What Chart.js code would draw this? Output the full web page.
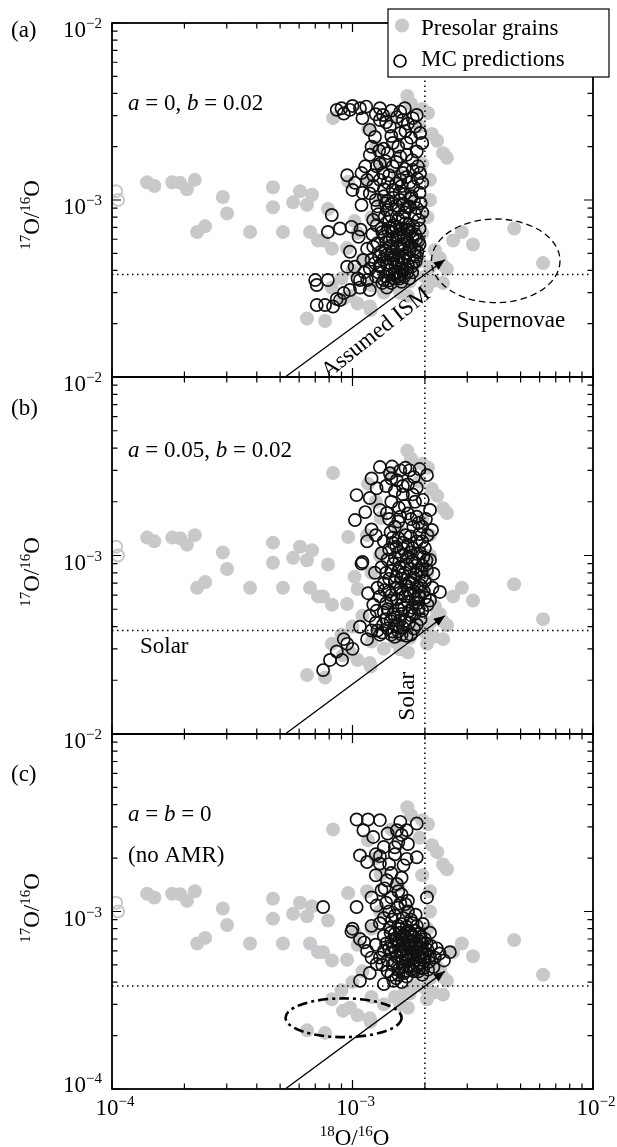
<!DOCTYPE html>
<html>
<head>
<meta charset="utf-8">
<script src="https://cdn.jsdelivr.net/npm/chart.js@4.4.1/dist/chart.umd.min.js"></script>
<style>
  html, body { margin: 0; padding: 0; background: #fff; }
  #wrap { position: relative; width: 617px; height: 1147px; }
  #wrap canvas { position: absolute; left: 0; top: 0; }
</style>
</head>
<body>
<div id="wrap">
  <canvas id="panelA" width="617" height="1147"></canvas>
  <canvas id="panelB" width="617" height="1147"></canvas>
  <canvas id="panelC" width="617" height="1147"></canvas>
</div>
<script>
// ---- data (18O/16O, 17O/16O) ----
const axisMin = 1e-4;
const axisMax = 1e-2;
const majorTicks = [1e-4, 1e-3, 1e-2];
const majorExp = ['\u22124', '\u22123', '\u22122'];
const minorSteps = [2, 3, 4, 5, 6, 7, 8, 9];

const solar18 = 2.0e-3;
const solar17 = 3.8e-4;

// presolar grains (same in all panels)
const grains = [
  [1.40e-4,1.26e-3],[1.50e-4,1.20e-3],[1.78e-4,1.26e-3],[1.92e-4,1.25e-3],[2.05e-4,1.15e-3],[2.21e-4,1.30e-3],
  [2.26e-4,6.6e-4],[2.44e-4,7.1e-4],[2.89e-4,1.04e-3],[3.01e-4,8.4e-4],[3.75e-4,6.6e-4],
  [4.67e-4,1.18e-3],[4.67e-4,9.1e-4],[5.14e-4,6.6e-4],[5.66e-4,9.7e-4],[6.47e-4,9.4e-4],[6.79e-4,1.07e-3],
  [6.05e-4,1.12e-3],[6.66e-4,6.6e-4],[7.19e-4,5.9e-4],[7.54e-4,5.9e-4],[8.22e-4,5.3e-4],[9.49e-4,5.35e-4],
  [7.91e-4,8.9e-4],[9.6e-4,1.27e-3],[1.02e-3,7.6e-4],[8.3e-4,2.9e-3],[1.16e-3,2.52e-3],[1.31e-3,1.62e-3],
  [1.69e-3,3.87e-3],[1.95e-3,3.27e-3],[2.06e-3,3.10e-3],[2.14e-3,2.36e-3],[2.25e-3,2.16e-3],[2.38e-3,1.84e-3],[2.47e-3,1.73e-3],
  [1.70e-3,2.87e-4],[1.19e-3,2.39e-4],[6.47e-4,2.14e-4],[7.69e-4,2.07e-4],[9.13e-4,2.76e-4],[9.76e-4,2.87e-4],
  [2.37e-3,4.3e-4],[2.38e-3,3.4e-4],[2.47e-3,4.07e-4],[2.62e-3,5.9e-4],[2.85e-3,6.6e-4],[3.17e-3,5.6e-4],
  [4.7e-3,6.9e-4],[6.2e-3,4.4e-4],[2.31e-3,4.7e-4],
  [2.25e-3,4.6e-4],[2.1e-3,4.2e-4],[2.0e-3,3.7e-4],[2.2e-3,5.2e-4],[2.17e-3,3.5e-4],[2.04e-3,3.2e-4],
  [1.73e-3,3.45e-4],[1.58e-3,2.98e-4],[1.18e-3,2.5e-4],
  [1.05e-3,6.5e-4],[1.1e-3,4.6e-4],[1.2e-3,3.3e-4],[1.35e-3,3.0e-4],[1.5e-3,3.3e-4],[1.65e-3,3.5e-4],
  [1.8e-3,3.8e-4],[1.9e-3,4.5e-4],[1.85e-3,5.5e-4],[1.95e-3,6.5e-4],[2.05e-3,8.0e-4],[2.1e-3,1.0e-3],
  [2.1e-3,1.3e-3],[1.95e-3,1.6e-3],[1.9e-3,2.6e-3],[1.75e-3,3.5e-3],[1.45e-3,2.9e-3],[1.25e-3,2.0e-3],
  [1.15e-3,1.3e-3],[1.3e-3,1.0e-3],[1.2e-3,8.0e-4],[1.4e-3,5.5e-4],[1.6e-3,7.0e-4],[1.7e-3,1.0e-3],
  [1.55e-3,1.4e-3],[1.0e-3,4.0e-4],[9.0e-4,3.6e-4],[8.2e-4,3.2e-4],[1.05e-3,2.6e-4]
];
// grains clipped at the left border, drawn as rings
const edgeGrains = [[1.04e-4,1.12e-3],[1.06e-4,1.0e-3]];

// MC predictions, panel (a): a = 0, b = 0.02
const mcA = [
  [8.6e-4,3.23e-3],[9.2e-4,3.08e-3],[9.76e-4,3.23e-3],[1.074e-3,3.3e-3],[1.14e-3,3.37e-3],[1.30e-3,3.3e-3],
  [1.34e-3,3.02e-3],[1.53e-3,2.94e-3],[1.85e-3,3.02e-3],[1.91e-3,2.39e-3],[1.30e-3,2.83e-3],[1.18e-3,2.49e-3],
  [1.24e-3,2.27e-3],[1.43e-3,2.6e-3],[1.62e-3,2.83e-3],[1.58e-3,2.39e-3],[1.47e-3,2.1e-3],[1.68e-3,2.1e-3],
  [1.85e-3,1.88e-3],[1.77e-3,1.68e-3],[1.87e-3,1.55e-3],[1.18e-3,1.80e-3],[1.26e-3,1.55e-3],[1.34e-3,1.42e-3],
  [1.47e-3,1.55e-3],[1.58e-3,1.76e-3],[1.40e-3,1.84e-3],[9.5e-4,1.38e-3],[1.024e-3,1.25e-3],[1.09e-3,1.42e-3],
  [1.15e-3,1.30e-3],[1.0e-3,1.14e-3],[1.58e-3,1.30e-3],[1.68e-3,1.35e-3],[1.91e-3,1.42e-3],[1.79e-3,1.19e-3],
  [1.47e-3,1.14e-3],[7.0e-4,3.53e-4],[7.9e-4,3.53e-4],[7.69e-4,2.55e-4],[8.3e-4,2.50e-4],[8.6e-4,2.76e-4],
  [8.2e-4,8.23e-4],[7.9e-4,6.6e-4],[8.87e-4,6.9e-4],[9.9e-4,7.05e-4],[9.76e-4,5.1e-4],[9.5e-4,4.2e-4],
  [1.074e-3,3.2e-4],[1.18e-3,1.09e-3],[1.06e-3,6.2e-4],[1.09e-3,9.37e-4],[1.22e-3,7.71e-4],[1.39e-3,8.78e-4],
  [1.58e-3,1.0e-3],[1.73e-3,9.2e-4],[1.88e-3,7.71e-4],[1.68e-3,6.77e-4],[1.43e-3,5.94e-4],[1.22e-3,5.45e-4],
  [1.11e-3,4.58e-4],[1.30e-3,4.2e-4],[1.53e-3,4.58e-4],[1.73e-3,5.22e-4],[1.79e-3,4.4e-4],[1.15e-3,3.53e-4],
  [1.35e-3,3.53e-4],[1.53e-3,3.67e-4],[9.76e-4,3.10e-4],[1.18e-3,3.10e-4],[1.39e-3,3.2e-4],[9.2e-4,2.98e-4],
  [8.87e-4,2.72e-4],[1.074e-3,3.53e-4],[7.1e-4,3.31e-4],[7.1e-4,2.55e-4],
  [1.25e-3,1.0e-3],[1.35e-3,1.05e-3],[1.45e-3,9.5e-4],[1.55e-3,8.8e-4],[1.65e-3,1.08e-3],[1.75e-3,1.02e-3],
  [1.85e-3,9.0e-4],[1.28e-3,8.3e-4],[1.42e-3,7.6e-4],[1.52e-3,7.0e-4],[1.62e-3,8.0e-4],[1.72e-3,7.3e-4],
  [1.82e-3,6.4e-4],[1.33e-3,6.6e-4],[1.47e-3,6.1e-4],[1.58e-3,5.6e-4],[1.68e-3,6.0e-4],[1.90e-3,5.6e-4],
  [1.27e-3,5.7e-4],[1.37e-3,5.2e-4],[1.50e-3,4.9e-4],[1.62e-3,4.7e-4],[1.85e-3,4.8e-4],[1.20e-3,4.6e-4],
  [1.30e-3,4.3e-4],[1.42e-3,4.0e-4],[1.55e-3,3.9e-4],[1.68e-3,4.1e-4],[1.12e-3,3.9e-4],[1.25e-3,3.7e-4],
  [1.45e-3,3.4e-4],[1.60e-3,3.45e-4],[1.02e-3,4.2e-4],[1.05e-3,3.6e-4],[1.15e-3,5.3e-4],[1.08e-3,6.8e-4],
  [1.95e-3,1.25e-3],[1.60e-3,1.2e-3],[1.40e-3,1.25e-3],[1.22e-3,1.2e-3],[1.30e-3,1.6e-3],[1.65e-3,1.5e-3],
  [1.55e-3,2.0e-3],[1.75e-3,2.25e-3],[1.35e-3,1.95e-3],[1.2e-3,2.0e-3],[1.7e-3,2.7e-3],[1.45e-3,3.2e-3],
  [1.65e-3,3.3e-3],[1.1e-3,2.9e-3],[1.0e-3,3.4e-3],[9.0e-4,3.3e-3],[1.95e-3,2.1e-3],
  [1.32e-3,6.9e-4],[1.41e-3,6.7e-4],[1.49e-3,7.2e-4],[1.57e-3,6.4e-4],[1.66e-3,7.4e-4],[1.74e-3,6.6e-4],
  [1.36e-3,6.2e-4],[1.44e-3,5.5e-4],[1.53e-3,5.9e-4],[1.61e-3,5.3e-4],[1.70e-3,5.8e-4],[1.78e-3,6.1e-4],
  [1.39e-3,4.9e-4],[1.47e-3,5.1e-4],[1.56e-3,4.8e-4],[1.64e-3,5.6e-4],[1.72e-3,4.7e-4],[1.81e-3,5.3e-4],
  [1.34e-3,4.6e-4],[1.43e-3,4.4e-4],[1.51e-3,4.2e-4],[1.60e-3,4.4e-4],[1.69e-3,3.9e-4],[1.76e-3,4.2e-4],
  [1.28e-3,3.9e-4],[1.37e-3,3.7e-4],[1.46e-3,3.8e-4],[1.57e-3,3.6e-4],[1.64e-3,3.7e-4],[1.41e-3,3.5e-4],
  [1.50e-3,3.9e-4],[1.62e-3,4.0e-4],[1.83e-3,4.5e-4],[1.88e-3,5.9e-4],[1.90e-3,6.9e-4],[1.82e-3,8.3e-4],
  [1.45e-3,8.1e-4],[1.55e-3,7.8e-4],[1.65e-3,8.5e-4],[1.52e-3,9.3e-4],[1.40e-3,9.9e-4],[1.63e-3,9.5e-4],[1.76e-3,1.05e-3],
  [1.21e-3,6.4e-4],[1.26e-3,7.2e-4],[1.31e-3,5.1e-4],[1.36e-3,8.0e-4],[1.44e-3,7.0e-4],[1.48e-3,4.6e-4],
  [1.54e-3,5.4e-4],[1.59e-3,6.9e-4],[1.63e-3,6.2e-4],[1.67e-3,5.0e-4],[1.71e-3,6.8e-4],[1.75e-3,5.5e-4],
  [1.79e-3,7.1e-4],[1.84e-3,6.0e-4],[1.86e-3,5.1e-4],[1.77e-3,3.9e-4],[1.72e-3,3.6e-4],[1.59e-3,3.8e-4],
  [1.49e-3,3.6e-4],[1.33e-3,3.4e-4],[1.24e-3,4.4e-4],[1.18e-3,4.1e-4],[1.29e-3,4.8e-4],[1.40e-3,4.3e-4],
  [1.52e-3,4.5e-4],[1.65e-3,4.6e-4],[1.81e-3,4.9e-4],[1.27e-3,9.2e-4],[1.37e-3,9.6e-4],[1.48e-3,1.03e-3],
  [1.57e-3,1.1e-3],[1.69e-3,9.1e-4],[1.80e-3,9.8e-4],[1.92e-3,9.6e-4],[1.35e-3,1.15e-3],[1.52e-3,1.24e-3],
  [1.73e-3,1.26e-3],[1.86e-3,1.32e-3],[1.42e-3,1.38e-3],[1.62e-3,1.42e-3],[1.78e-3,1.48e-3],[1.37e-3,1.66e-3],
  [1.52e-3,1.64e-3],[1.68e-3,1.8e-3],[1.29e-3,1.9e-3],[1.45e-3,2.3e-3],[1.66e-3,2.45e-3],[1.82e-3,2.6e-3],
  [1.25e-3,3.05e-3],[1.58e-3,3.15e-3],[1.78e-3,2.9e-3],[1.38e-3,2.75e-3],[1.13e-3,1.55e-3],[1.22e-3,1.38e-3],
  [1.1e-3,1.1e-3],[1.3e-3,1.3e-3],[1.9e-3,1.1e-3],[1.95e-3,8.5e-4],[1.55e-3,6.2e-4],[1.46e-3,6.6e-4],
  [1.38e-3,5.8e-4],[1.60e-3,4.1e-4],[1.70e-3,4.3e-4],[1.44e-3,4.9e-4],[1.54e-3,3.7e-4]
];

// MC predictions, panel (b): a = 0.05, b = 0.02
const mcB = [
  [1.30e-3,3.13e-3],[1.43e-3,2.89e-3],[1.58e-3,3.0e-3],[1.73e-3,3.0e-3],[2.04e-3,2.82e-3],[1.04e-3,2.18e-3],
  [1.18e-3,2.1e-3],[1.26e-3,2.38e-3],[1.024e-3,1.58e-3],[1.10e-3,9.2e-4],[1.32e-3,1.03e-3],[1.53e-3,2.64e-3],
  [1.82e-3,2.0e-3],[2.10e-3,1.80e-3],[2.14e-3,1.39e-3],[1.39e-3,1.73e-3],[1.58e-3,1.65e-3],[1.79e-3,1.45e-3],
  [1.47e-3,1.18e-3],[1.91e-3,1.03e-3],[2.10e-3,9.45e-4],[9.2e-4,3.4e-4],[9.05e-4,2.6e-4],[8.06e-4,2.6e-4],
  [7.55e-4,2.28e-4],[1.074e-3,3.99e-4],[1.16e-3,6.15e-4],[1.15e-3,3.4e-4],[1.26e-3,4.9e-4],[2.31e-3,6.25e-4],
  [2.17e-3,7.9e-4],[2.10e-3,5.6e-4],[1.09e-3,9.0e-4],[8.6e-4,2.9e-4],[9.5e-4,3.2e-4],[1.0e-3,3.0e-4],
  [1.35e-3,1.2e-3],[1.55e-3,1.25e-3],[1.7e-3,1.15e-3],[1.85e-3,1.2e-3],[2.0e-3,1.1e-3],[1.4e-3,9.5e-4],
  [1.6e-3,1.0e-3],[1.78e-3,9.3e-4],[1.95e-3,8.8e-4],[1.45e-3,8.2e-4],[1.62e-3,7.8e-4],[1.8e-3,7.5e-4],
  [2.0e-3,7.2e-4],[1.35e-3,7.0e-4],[1.52e-3,6.6e-4],[1.7e-3,6.4e-4],[1.88e-3,6.0e-4],[1.3e-3,5.9e-4],
  [1.45e-3,5.6e-4],[1.6e-3,5.3e-4],[1.78e-3,5.1e-4],[1.95e-3,4.9e-4],[1.35e-3,4.8e-4],[1.5e-3,4.5e-4],
  [1.65e-3,4.3e-4],[1.85e-3,4.1e-4],[1.25e-3,4.2e-4],[1.4e-3,3.9e-4],[1.55e-3,3.75e-4],[1.75e-3,3.6e-4],
  [1.3e-3,3.6e-4],[1.5e-3,3.5e-4],[1.2e-3,3.8e-4],[1.7e-3,2.5e-3],[1.5e-3,2.3e-3],[1.85e-3,2.4e-3],
  [1.65e-3,1.9e-3],[1.45e-3,2.0e-3],[1.3e-3,1.8e-3],[1.75e-3,1.6e-3],[1.5e-3,1.45e-3],[1.95e-3,1.45e-3],
  [1.2e-3,1.4e-3],[1.15e-3,1.2e-3],[2.05e-3,1.3e-3],[2.15e-3,6.6e-4],
  [1.42e-3,1.08e-3],[1.52e-3,1.12e-3],[1.63e-3,1.09e-3],[1.74e-3,1.04e-3],[1.86e-3,1.02e-3],[1.97e-3,9.8e-4],
  [1.48e-3,9.0e-4],[1.57e-3,8.6e-4],[1.68e-3,8.9e-4],[1.87e-3,8.3e-4],[1.52e-3,7.6e-4],[1.72e-3,7.1e-4],
  [1.92e-3,6.8e-4],[1.42e-3,6.3e-4],[1.61e-3,6.1e-4],[1.80e-3,6.3e-4],[1.98e-3,6.3e-4],[1.38e-3,5.4e-4],
  [1.55e-3,5.0e-4],[1.70e-3,5.5e-4],[1.87e-3,5.4e-4],[2.05e-3,5.3e-4],[1.44e-3,4.3e-4],[1.60e-3,4.7e-4],
  [1.76e-3,4.6e-4],[1.92e-3,4.4e-4],[1.34e-3,4.1e-4],[1.47e-3,3.75e-4],[1.62e-3,3.95e-4],[1.68e-3,3.55e-4],
  [1.27e-3,3.8e-4],[1.18e-3,4.6e-4],[1.22e-3,5.3e-4],[1.27e-3,6.6e-4],[1.24e-3,8.0e-4],[1.32e-3,8.6e-4],
  [1.66e-3,1.3e-3],[1.44e-3,1.35e-3],[1.85e-3,1.65e-3],[1.56e-3,1.85e-3],[1.96e-3,2.05e-3],[1.62e-3,2.2e-3],
  [1.38e-3,2.45e-3],[1.8e-3,2.75e-3],[1.66e-3,3.1e-3],[1.46e-3,3.15e-3],[1.9e-3,3.05e-3],[1.2e-3,2.7e-3],
  [1.13e-3,1.75e-3],[1.25e-3,1.3e-3],[1.9e-3,1.32e-3],[2.02e-3,1.6e-3],
  [1.45e-3,6.0e-4],[1.53e-3,5.7e-4],[1.58e-3,6.5e-4],[1.66e-3,5.9e-4],[1.73e-3,6.1e-4],[1.83e-3,5.7e-4],
  [1.90e-3,5.9e-4],[1.40e-3,5.0e-4],[1.48e-3,4.7e-4],[1.57e-3,4.3e-4],[1.64e-3,5.1e-4],[1.72e-3,4.9e-4],
  [1.81e-3,4.7e-4],[1.88e-3,5.0e-4],[2.0e-3,5.8e-4],[1.38e-3,4.4e-4],[1.52e-3,4.0e-4],[1.60e-3,3.6e-4],
  [1.72e-3,4.2e-4],[1.80e-3,3.9e-4],[1.33e-3,3.7e-4],[1.45e-3,3.6e-4],[1.50e-3,7.1e-4],[1.60e-3,7.4e-4],
  [1.68e-3,6.8e-4],[1.77e-3,7.0e-4],[1.86e-3,6.7e-4],[1.95e-3,7.6e-4],[1.42e-3,7.4e-4],[1.36e-3,6.4e-4],
  [1.55e-3,8.2e-4],[1.65e-3,8.0e-4],[1.74e-3,8.4e-4],[1.84e-3,7.9e-4],[1.93e-3,8.1e-4],[2.04e-3,8.3e-4],
  [1.50e-3,9.7e-4],[1.70e-3,9.8e-4],[1.82e-3,9.1e-4],[2.03e-3,9.4e-4],[1.38e-3,8.0e-4],[1.56e-3,1.05e-3],
  [1.78e-3,1.1e-3],[1.95e-3,1.2e-3],[1.47e-3,1.26e-3],[1.62e-3,1.18e-3],[1.74e-3,1.28e-3],[1.88e-3,1.52e-3],
  [1.55e-3,1.55e-3],[1.7e-3,1.72e-3],[1.42e-3,1.6e-3],[1.62e-3,2.45e-3],[1.78e-3,2.2e-3],[1.45e-3,2.7e-3]
];

// MC predictions, panel (c): a = b = 0 (no AMR)
const mcC = [
  [1.04e-3,3.3e-3],[1.16e-3,3.3e-3],[1.30e-3,3.27e-3],[1.58e-3,3.2e-3],[1.85e-3,3.13e-3],[1.11e-3,2.87e-3],
  [1.22e-3,2.63e-3],[1.53e-3,2.87e-3],[1.68e-3,2.87e-3],[1.35e-3,2.31e-3],[1.074e-3,2.07e-3],[1.15e-3,1.9e-3],
  [1.30e-3,1.86e-3],[1.68e-3,1.98e-3],[1.85e-3,2.02e-3],[1.63e-3,1.82e-3],[1.39e-3,1.5e-3],[1.32e-3,1.32e-3],
  [1.53e-3,1.43e-3],[2.04e-3,1.2e-3],[7.55e-4,1.06e-3],[1.04e-3,1.06e-3],[1.26e-3,1.08e-3],[1.58e-3,1.11e-3],
  [1.0e-3,8.0e-4],[1.2e-3,8.3e-4],[1.43e-3,8.1e-4],[2.10e-3,7.6e-4],[1.074e-3,4.07e-4],[1.18e-3,4.5e-4],
  [1.26e-3,5.06e-4],[1.35e-3,3.9e-4],[1.15e-3,6.0e-4],[1.074e-3,7.0e-4],[2.24e-3,6.2e-4],[2.54e-3,5.9e-4],
  [2.40e-3,5.3e-4],[2.17e-3,4.86e-4],[1.48e-3,4.07e-4],
  [1.5e-3,7.5e-4],[1.6e-3,7.0e-4],[1.7e-3,7.8e-4],[1.8e-3,7.2e-4],[1.9e-3,6.8e-4],[2.0e-3,7.0e-4],
  [1.55e-3,6.4e-4],[1.65e-3,6.2e-4],[1.75e-3,6.5e-4],[1.85e-3,6.0e-4],[1.95e-3,5.8e-4],[2.05e-3,6.1e-4],
  [1.45e-3,5.9e-4],[1.6e-3,5.6e-4],[1.7e-3,5.3e-4],[1.8e-3,5.5e-4],[1.9e-3,5.1e-4],[2.0e-3,5.3e-4],
  [1.5e-3,5.2e-4],[1.62e-3,4.9e-4],[1.75e-3,4.7e-4],[1.88e-3,4.6e-4],[1.4e-3,4.6e-4],[1.55e-3,4.4e-4],
  [1.68e-3,4.3e-4],[1.45e-3,6.8e-4],[1.35e-3,7.3e-4],[1.6e-3,8.5e-4],[1.75e-3,9.0e-4],[1.5e-3,9.5e-4],
  [1.7e-3,1.0e-3],[1.85e-3,8.3e-4],[1.3e-3,5.5e-4],[1.25e-3,6.5e-4],[1.35e-3,6.0e-4],[1.95e-3,4.4e-4],
  [2.1e-3,5.6e-4],[1.42e-3,1.0e-3],[1.6e-3,1.25e-3],[1.45e-3,1.2e-3],[1.25e-3,1.6e-3],[1.45e-3,1.65e-3],
  [1.5e-3,2.1e-3],[1.3e-3,2.05e-3],[1.55e-3,2.45e-3],[1.4e-3,2.75e-3],[1.7e-3,2.4e-3],[1.6e-3,2.7e-3],
  [1.25e-3,2.1e-3],[1.2e-3,1.2e-3],[1.35e-3,9.2e-4],[1.3e-3,8.6e-4],[1.12e-3,6.7e-4],[1.2e-3,5.5e-4],
  [9.9e-4,7.7e-4],[1.7e-3,1.15e-3],
  [1.52e-3,6.9e-4],[1.63e-3,6.6e-4],[1.73e-3,6.9e-4],[1.83e-3,6.6e-4],[1.93e-3,6.2e-4],[2.03e-3,6.6e-4],
  [1.58e-3,5.9e-4],[1.68e-3,5.75e-4],[1.78e-3,5.9e-4],[1.88e-3,5.6e-4],[1.98e-3,5.5e-4],[2.08e-3,5.2e-4],
  [1.57e-3,4.8e-4],[1.67e-3,4.65e-4],[1.78e-3,5.0e-4],[1.86e-3,4.9e-4],[1.97e-3,4.8e-4],[2.06e-3,4.7e-4],
  [1.63e-3,7.4e-4],[1.76e-3,7.3e-4],[1.9e-3,7.5e-4],[1.57e-3,8.0e-4],[1.83e-3,9.6e-4],[1.96e-3,8.5e-4],
  [1.48e-3,6.3e-4],[1.56e-3,6.8e-4],[1.62e-3,6.0e-4],[1.70e-3,6.4e-4],[1.78e-3,6.2e-4],[1.86e-3,6.5e-4],
  [1.95e-3,6.6e-4],[2.02e-3,5.8e-4],[1.52e-3,5.6e-4],[1.60e-3,5.2e-4],[1.66e-3,5.5e-4],[1.74e-3,5.7e-4],
  [1.83e-3,5.3e-4],[1.92e-3,5.6e-4],[1.47e-3,5.0e-4],[1.55e-3,4.7e-4],[1.64e-3,4.5e-4],[1.72e-3,4.9e-4],
  [1.80e-3,4.6e-4],[1.90e-3,4.8e-4],[1.52e-3,4.2e-4],[1.60e-3,4.0e-4],[1.45e-3,4.4e-4],[1.40e-3,5.3e-4],
  [1.42e-3,6.2e-4],[1.50e-3,7.0e-4],[1.58e-3,7.6e-4],[1.66e-3,7.2e-4],[1.74e-3,7.6e-4],[1.82e-3,7.8e-4],
  [1.92e-3,7.2e-4],[1.44e-3,7.6e-4],[1.55e-3,8.3e-4],[1.68e-3,8.2e-4],[1.78e-3,8.6e-4],[1.38e-3,6.6e-4],
  [1.33e-3,5.0e-4],[2.12e-3,6.4e-4],[2.2e-3,5.5e-4],[2.3e-3,5.8e-4],[1.62e-3,9.2e-4],[1.46e-3,9.0e-4],
  [1.54e-3,1.05e-3],[1.66e-3,1.1e-3],[1.38e-3,1.12e-3],[1.36e-3,1.35e-3],[1.55e-3,1.3e-3],[1.6e-3,1.55e-3],
  [1.42e-3,1.85e-3],[1.5e-3,2.3e-3]
];

// assumed ISM evolution arrow (tail, head)
const ismArrow = [[5.25e-4,1e-4],[2.42e-3,4.6e-4]];

const grainColor = '#c8c9cb';
const FONT = '"Liberation Serif", "Times New Roman", serif';

function fnt(style, size) {
  if (style === 'i') return 'italic ' + size + 'px ' + FONT;
  if (style === 'sup') return Math.round(size * 0.66) + 'px ' + FONT;
  return size + 'px ' + FONT;
}

// draws a run of text pieces: [text, style] with style '', 'i' or 'sup'
function richText(ctx, segs, x, y, size, align) {
  let w = 0;
  const parts = segs.map(([t, s]) => {
    ctx.font = fnt(s, size);
    const m = ctx.measureText(t).width;
    w += m;
    return { t, s, m };
  });
  let cx = x;
  if (align === 'center') cx = x - w / 2;
  if (align === 'right') cx = x - w;
  ctx.textAlign = 'left';
  parts.forEach(p => {
    ctx.font = fnt(p.s, size);
    ctx.fillText(p.t, cx, p.s === 'sup' ? y - size * 0.38 : y);
    cx += p.m;
  });
}

const decor = {
  id: 'decor',
  afterDatasetsDraw(chart, args, o) {
    const ctx = chart.ctx;
    const a = chart.chartArea;
    const sx = chart.scales.x, sy = chart.scales.y;
    const px = v => sx.getPixelForValue(v);
    const py = v => sy.getPixelForValue(v);

    ctx.save();
    ctx.fillStyle = '#000';
    ctx.strokeStyle = '#000';

    // ellipses
    (o.ellipses || []).forEach(e => {
      const x0 = px(e.x0), x1 = px(e.x1), y0 = py(e.y0), y1 = py(e.y1);
      ctx.save();
      ctx.setLineDash(e.dash);
      ctx.lineWidth = e.width;
      ctx.beginPath();
      ctx.ellipse((x0 + x1) / 2, (y0 + y1) / 2, Math.abs(x1 - x0) / 2, Math.abs(y1 - y0) / 2, 0, 0, Math.PI * 2);
      ctx.stroke();
      ctx.restore();
    });

    // arrow head on the ISM line
    const meta = chart.getDatasetMeta(o.arrowIndex);
    const p0 = meta.data[0], p1 = meta.data[1];
    const ang = Math.atan2(p1.y - p0.y, p1.x - p0.x);
    ctx.save();
    ctx.translate(p1.x, p1.y);
    ctx.rotate(ang);
    ctx.beginPath();
    ctx.moveTo(0, 0);
    ctx.lineTo(-11, -4.5);
    ctx.lineTo(-11, 4.5);
    ctx.closePath();
    ctx.fill();
    ctx.restore();

    // frame
    ctx.lineWidth = 1.8;
    ctx.strokeRect(a.left, a.top, a.right - a.left, a.bottom - a.top);

    // inward ticks on all four sides
    const ticks = [];
    majorTicks.forEach((v, k) => {
      ticks.push([v, 9]);
      if (k < majorTicks.length - 1) minorSteps.forEach(m => ticks.push([m * v, 5.5]));
    });
    ctx.lineWidth = 1.2;
    ctx.beginPath();
    ticks.forEach(([v, len]) => {
      const X = px(v), Y = py(v);
      ctx.moveTo(X, a.bottom); ctx.lineTo(X, a.bottom - len);
      ctx.moveTo(X, a.top); ctx.lineTo(X, a.top + len);
      ctx.moveTo(a.left, Y); ctx.lineTo(a.left + len, Y);
      ctx.moveTo(a.right, Y); ctx.lineTo(a.right - len, Y);
    });
    ctx.stroke();

    // tick labels
    ctx.textBaseline = 'alphabetic';
    o.yLabels.forEach(v => {
      const k = majorTicks.indexOf(v);
      const off = v === axisMin ? 3 : 14;
      richText(ctx, [['10', ''], [majorExp[k], 'sup']], a.left - 10, py(v) + off, 23, 'right');
    });
    if (o.xLabels) {
      majorTicks.forEach((v, k) => {
        richText(ctx, [['10', ''], [majorExp[k], 'sup']], px(v) + 3, a.bottom + 26, 23, 'center');
      });
      richText(ctx, [['18', 'sup'], ['O/', ''], ['16', 'sup'], ['O', '']], px(1e-3) + 2, a.bottom + 56, 23, 'center');
    }

    // text notes
    o.notes.forEach(n => {
      ctx.save();
      ctx.translate(n.px !== undefined ? n.px : px(n.x), py(n.y));
      if (n.rot === 'arrow') ctx.rotate(ang - 0.04);
      else if (n.rot) ctx.rotate(n.rot);
      ctx.textBaseline = n.base || 'alphabetic';
      richText(ctx, n.segs, 0, 0, 23, n.align || 'left');
      ctx.restore();
    });

    // legend box
    if (o.legend) {
      const L = a.right - 205, T = a.top - 14, W = 221, H = 68;
      const ds = chart.data.datasets;
      ctx.fillStyle = '#fff';
      ctx.fillRect(L, T, W, H);
      ctx.lineWidth = 1.2;
      ctx.strokeRect(L, T, W, H);
      ctx.fillStyle = grainColor;
      ctx.beginPath();
      ctx.arc(L + 14, T + 16.5, 7, 0, Math.PI * 2);
      ctx.fill();
      ctx.lineWidth = 1.7;
      ctx.beginPath();
      ctx.arc(L + 12, T + 52, 6, 0, Math.PI * 2);
      ctx.stroke();
      ctx.fillStyle = '#000';
      ctx.textBaseline = 'alphabetic';
      richText(ctx, [[ds[0].label, '']], L + 33, T + 26, 23, 'left');
      richText(ctx, [[ds[2].label, '']], L + 33, T + 57, 23, 'left');
    }
    ctx.restore();
  }
};

const pts = arr => arr.map(([x, y]) => ({ x, y }));
const yTitle = [['17', 'sup'], ['O/', ''], ['16', 'sup'], ['O', '']];

function makePanel(id, top, bottom, mc, extra) {
  return new Chart(document.getElementById(id), {
    type: 'scatter',
    data: {
      datasets: [
        { label: 'Presolar grains', data: pts(grains), backgroundColor: grainColor, borderWidth: 0, pointRadius: 7, order: 5 },
        { label: 'edge grains', data: pts(edgeGrains), backgroundColor: 'rgba(0,0,0,0)', borderColor: grainColor, borderWidth: 2, pointRadius: 6, order: 5 },
        { label: 'MC predictions', data: pts(mc), backgroundColor: 'rgba(0,0,0,0)', borderColor: '#111', borderWidth: 1.7, pointRadius: 6.1, order: 4 },
        { type: 'line', label: 'solar 17O/16O', data: [{ x: axisMin, y: solar17 }, { x: axisMax, y: solar17 }],
          borderColor: '#000', borderWidth: 1.5, borderDash: [1.5, 3.5], pointRadius: 0, fill: false, order: 3 },
        { type: 'line', label: 'solar 18O/16O', data: [{ x: solar18, y: axisMin }, { x: solar18, y: axisMax }],
          borderColor: '#000', borderWidth: 1.5, borderDash: [1.5, 3.5], pointRadius: 0, fill: false, order: 3 },
        { type: 'line', label: 'ISM', data: pts(ismArrow), borderColor: '#000', borderWidth: 1.3, pointRadius: 0, fill: false, order: 2 }
      ]
    },
    options: {
      responsive: false,
      animation: false,
      events: [],
      layout: { padding: { left: 112, right: 24, top: top, bottom: 1147 - bottom } },
      scales: {
        x: { type: 'logarithmic', min: axisMin, max: axisMax, display: false },
        y: { type: 'logarithmic', min: axisMin, max: axisMax, display: false }
      },
      plugins: {
        legend: { display: false },
        tooltip: { enabled: false },
        decor: Object.assign({ arrowIndex: 5, yLabels: [1e-2, 1e-3], xLabels: false, legend: false, ellipses: [] }, extra)
      }
    },
    plugins: [decor]
  });
}

makePanel('panelA', 23, 377, mcA, {
  legend: true,
  ellipses: [{ x0: 2.13e-3, x1: 7.29e-3, y0: 2.63e-4, y1: 7.81e-4, dash: [6.5, 4], width: 1.3 }],
  notes: [
    { px: 11, y: 8.34e-3, segs: [['(a)', '']] },
    { px: 39, y: 8.23e-4, rot: -Math.PI / 2, segs: yTitle, align: 'center' },
    { x: 1.166e-4, y: 3.22e-3, segs: [['a', 'i'], [' = 0, ', ''], ['b', 'i'], [' = 0.02', '']] },
    { x: 4.56e-3, y: 1.92e-4, segs: [['Supernovae', '']], align: 'center' },
    { x: 1.253e-3, y: 1.77e-4, rot: 'arrow', base: 'middle', segs: [['Assumed ISM', '']], align: 'center' }
  ]
});

makePanel('panelB', 377, 734, mcB, {
  notes: [
    { px: 11, y: 6.12e-3, segs: [['(b)', '']] },
    { px: 39, y: 8.08e-4, rot: -Math.PI / 2, segs: yTitle, align: 'center' },
    { x: 1.166e-4, y: 3.58e-3, segs: [['a', 'i'], [' = 0.05, ', ''], ['b', 'i'], [' = 0.02', '']] },
    { x: 1.307e-4, y: 2.83e-4, segs: [['Solar', '']] },
    { x: 1.70e-3, y: 1.63e-4, rot: -Math.PI / 2, base: 'middle', segs: [['Solar', '']], align: 'center' }
  ]
});

makePanel('panelC', 734, 1089, mcC, {
  yLabels: [1e-2, 1e-3, 1e-4],
  xLabels: true,
  ellipses: [{ x0: 5.27e-4, x1: 1.60e-3, y0: 1.96e-4, y1: 3.24e-4, dash: [10, 4, 3, 4], width: 2.6 }],
  notes: [
    { px: 11, y: 5.43e-3, segs: [['(c)', '']] },
    { px: 39, y: 1.047e-3, rot: -Math.PI / 2, segs: yTitle, align: 'center' },
    { x: 1.166e-4, y: 3.25e-3, segs: [['a', 'i'], [' = ', ''], ['b', 'i'], [' = 0', '']] },
    { x: 1.166e-4, y: 1.91e-3, segs: [['(no AMR)', '']] }
  ]
});
</script>
</body>
</html>
